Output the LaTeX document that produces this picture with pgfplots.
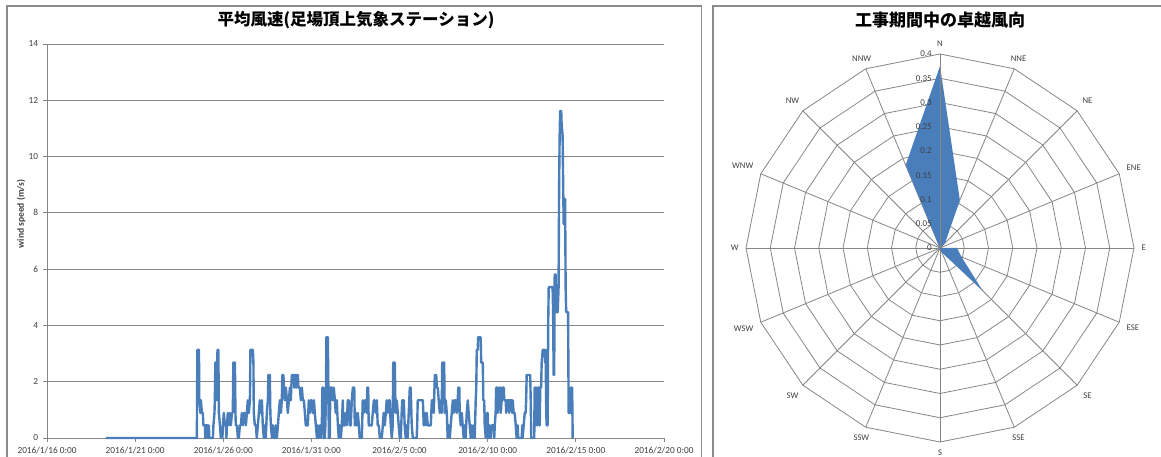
\documentclass[border=0pt]{standalone}
\usepackage{pgfplots}
\pgfplotsset{compat=1.18}
\usepgfplotslibrary{polar}
\usepackage{fontspec}
\setmainfont{Carlito}
\newfontfamily\cjk{Noto Sans CJK JP}
\definecolor{series}{HTML}{4A7EBB}
\definecolor{gridgray}{HTML}{868686}
\definecolor{framegray}{HTML}{8C8C8C}
\definecolor{txt}{HTML}{404040}
\begin{document}
\begin{tikzpicture}[x=1pt,y=1pt]
\useasboundingbox (0,0) rectangle (1161,457);
\begin{scope}
\clip (0,0) rectangle (1161,457);
\draw[framegray, line width=1.6pt] (7,-20) rectangle (701.5,451);
\draw[framegray, line width=1.6pt] (713,-20) rectangle (1190,451);
\end{scope}
% ---------------- left: time series ----------------
\begin{axis}[
  at={(47pt,19pt)}, anchor=south west,
  scale only axis, width=617pt, height=394pt,
  xmin=0, xmax=35, ymin=0, ymax=14,
  xtick={0,5,10,15,20,25,30,35},
  xticklabels={2016/1/16 0:00,2016/1/21 0:00,2016/1/26 0:00,2016/1/31 0:00,2016/2/5 0:00,2016/2/10 0:00,2016/2/15 0:00,2016/2/20 0:00},
  ytick={0,2,4,6,8,10,12,14},
  axis x line*=bottom, axis y line*=left,
  axis line style={gridgray, line width=0.9pt, -},
  ymajorgrids, grid style={gridgray, line width=0.9pt},
  tick style={gridgray, line width=0.9pt},
  tick align=outside, major tick length=4pt,
  /pgf/number format/assume math mode=true,
  tick label style={font=\fontsize{9.3}{11}\selectfont, text=txt},
  yticklabel style={xshift=-1.5pt},
  xticklabel style={yshift=-2pt},
  clip=false,
]
\addplot[series, line width=2.4pt, line join=round, no markers] coordinates {
(3.34,0) (8.50,0) (8.53,3.13) (8.62,3.13) (8.64,1.34) (8.70,0.89) (8.73,1.34) (8.79,0.89)
(8.84,0.89) (8.87,0.45) (8.96,0.45) (8.98,0) (9.01,0.45) (9.10,0.45) (9.13,0) (9.18,0.45)
(9.21,0) (9.41,0) (9.44,0.45) (9.50,0.89) (9.52,1.34) (9.55,2.68) (9.61,2.68) (9.64,1.34)
(9.67,3.13) (9.72,3.13) (9.75,0.89) (9.81,0.45) (9.86,0) (9.95,0) (9.98,0.45) (10.03,0.89)
(10.09,0.45) (10.15,0.45) (10.18,0) (10.20,0.45) (10.26,0.89) (10.32,0.45) (10.37,0.89) (10.43,0.45)
(10.49,0.89) (10.54,0.89) (10.57,2.68) (10.66,2.68) (10.69,0.89) (10.71,0.45) (10.77,0.45) (10.83,0)
(10.88,0) (10.94,0.45) (11.00,0.45) (11.05,0.89) (11.11,0.45) (11.17,0.89) (11.22,0.89) (11.28,0.45)
(11.34,0.89) (11.39,1.34) (11.45,0.89) (11.51,1.34) (11.54,3.13) (11.68,3.13) (11.71,2.68) (11.73,0.89)
(11.79,0.45) (11.85,0.45) (11.90,0) (11.96,0.45) (12.02,0.89) (12.07,1.34) (12.13,0.89) (12.19,1.34)
(12.24,0.45) (12.30,0) (12.36,0.45) (12.41,0) (12.47,0.89) (12.53,1.34) (12.56,2.24) (12.64,2.24)
(12.67,0.89) (12.70,0.45) (12.76,0) (12.81,0.45) (12.87,0) (12.93,0) (12.98,0.45) (13.04,0)
(13.10,0.45) (13.15,0.89) (13.21,1.34) (13.27,0.89) (13.32,1.34) (13.35,2.24) (13.41,2.24) (13.44,1.79)
(13.49,1.34) (13.55,1.79) (13.61,1.34) (13.66,0.89) (13.72,1.34) (13.78,1.79) (13.83,1.34) (13.89,2.24)
(14.00,2.24) (14.03,1.79) (14.06,2.24) (14.12,2.24) (14.14,1.79) (14.17,2.24) (14.23,2.24) (14.26,1.79)
(14.34,1.79) (14.40,1.34) (14.46,1.79) (14.51,1.34) (14.57,1.34) (14.63,0.89) (14.68,0.45) (14.80,0.45)
(14.82,0.89) (14.85,1.34) (14.91,0.89) (14.97,1.34) (15.02,1.34) (15.08,0.89) (15.14,1.34) (15.19,0.89)
(15.25,0.45) (15.31,0) (15.36,0.45) (15.42,0) (15.48,0.45) (15.53,0) (15.59,0.45) (15.62,1.79)
(15.68,1.79) (15.70,0) (15.76,0) (15.79,0.45) (15.82,1.34) (15.85,3.58) (15.93,3.58) (15.96,1.79)
(15.99,0) (16.02,1.79) (16.04,0) (16.07,1.79) (16.16,1.79) (16.21,1.34) (16.27,1.79) (16.33,1.34)
(16.38,0.89) (16.44,1.34) (16.50,0.45) (16.55,0) (16.61,0.45) (16.67,0) (16.72,0.45) (16.78,1.34)
(16.81,0.45) (16.89,0.45) (16.95,0.89) (17.01,0.45) (17.06,1.34) (17.12,1.34) (17.18,0.45) (17.23,0.45)
(17.29,1.34) (17.35,1.79) (17.43,1.79) (17.46,0.45) (17.52,0.89) (17.57,0.45) (17.63,0.89) (17.69,0.45)
(17.74,0) (17.86,0) (17.91,1.34) (17.97,0.89) (18.03,1.34) (18.08,1.34) (18.14,0.89) (18.17,1.79)
(18.22,1.79) (18.25,0.45) (18.42,0.45) (18.48,0.89) (18.54,1.34) (18.59,1.34) (18.65,0.89) (18.71,1.34)
(18.76,0.45) (18.82,0.45) (18.88,0) (18.99,0) (19.05,0.45) (19.10,0.89) (19.16,0.45) (19.22,0.89)
(19.27,1.34) (19.33,0.89) (19.39,1.34) (19.44,1.34) (19.50,0.45) (19.56,0) (19.61,0.45) (19.64,2.68)
(19.73,2.68) (19.76,1.34) (19.78,0.89) (19.84,1.34) (19.90,0.89) (19.95,0.45) (20.01,0) (20.07,0)
(20.12,0.89) (20.15,1.34) (20.24,1.34) (20.29,0.45) (20.35,0) (20.41,0.45) (20.46,0) (20.52,0.89)
(20.58,1.79) (20.63,1.79) (20.69,0.45) (20.75,0) (20.97,0) (21.00,0.45) (21.03,1.34) (21.32,1.34)
(21.37,0.45) (21.43,0.89) (21.49,0.45) (21.54,0.89) (21.60,0.45) (21.77,0.45) (21.83,1.34) (21.88,1.34)
(21.94,0.89) (22.00,2.24) (22.08,2.24) (22.11,1.79) (22.17,1.79) (22.22,1.34) (22.28,0.89) (22.34,1.34)
(22.39,0.89) (22.42,2.68) (22.53,2.68) (22.56,0.89) (22.62,1.34) (22.68,0.89) (22.73,0) (22.79,0.45)
(22.85,0) (22.90,0.45) (22.96,0.89) (23.02,1.34) (23.07,0.89) (23.13,1.34) (23.19,1.34) (23.24,0.89)
(23.30,1.34) (23.33,1.79) (23.39,1.79) (23.41,0.89) (23.47,0.45) (23.53,0.89) (23.58,0.45) (23.64,0)
(23.70,0.45) (23.75,0) (23.81,0.89) (23.87,1.34) (23.92,0.89) (23.98,0.45) (24.04,0) (24.09,0.45)
(24.15,0) (24.21,0.45) (24.26,0) (24.32,1.34) (24.35,1.79) (24.38,3.13) (24.43,3.13) (24.46,3.58)
(24.60,3.58) (24.63,2.68) (24.72,2.68) (24.75,1.34) (24.80,1.34) (24.83,0.45) (24.89,0) (24.94,0.45)
(24.97,0.89) (25.00,0.89) (25.03,0) (25.08,0) (25.11,0.45) (25.17,0) (25.23,0.45) (25.34,0.45)
(25.37,0) (25.40,0.45) (25.45,0.89) (25.48,1.79) (25.54,1.79) (25.57,0.89) (25.62,1.34) (25.65,1.79)
(25.71,1.79) (25.74,0.89) (25.79,1.34) (25.82,1.79) (25.91,1.79) (25.94,1.34) (26.02,1.34) (26.05,0.89)
(26.08,1.34) (26.19,1.34) (26.22,0.89) (26.25,1.34) (26.36,1.34) (26.39,0.89) (26.42,1.34) (26.47,0.89)
(26.53,0.89) (26.59,0.45) (26.64,0) (26.70,0.45) (26.73,0) (26.93,0) (26.96,0.45) (26.98,0)
(27.04,0.45) (27.10,0.89) (27.15,0.89) (27.18,1.34) (27.21,2.24) (27.41,2.24) (27.44,1.34) (27.47,0)
(27.64,0) (27.66,1.79) (27.72,1.79) (27.75,0.45) (27.78,1.79) (27.83,0.45) (27.86,1.79) (27.92,1.79)
(27.95,0.45) (27.98,1.79) (28.03,1.79) (28.06,2.68) (28.12,3.13) (28.23,3.13) (28.26,2.68) (28.29,3.13)
(28.31,1.34) (28.34,0.45) (28.40,0.45) (28.43,4.02) (28.46,5.36) (28.68,5.36) (28.71,4.47) (28.74,2.24)
(28.77,2.24) (28.80,5.81) (28.85,5.81) (28.88,4.92) (28.91,4.47) (28.97,4.47) (29.02,5.36) (29.05,8.94)
(29.08,10.73) (29.11,11.62) (29.17,11.62) (29.19,11.18) (29.25,10.73) (29.28,8.94) (29.31,7.60) (29.34,8.49)
(29.37,7.60) (29.39,8.49) (29.42,5.36) (29.45,4.47) (29.56,4.47) (29.59,0.89) (29.68,0.89) (29.71,1.79)
(29.79,1.79) (29.82,0)
};
\end{axis}
\node[font=\cjk\bfseries\fontsize{16.5}{18}\selectfont] at (356,437) {平均風速(足場頂上気象ステーション)};
\node[rotate=90, font=\bfseries\fontsize{9.5}{11}\selectfont, text=txt] at (21,243) {wind speed (m/s)};
% ---------------- right: radar ----------------
\begin{polaraxis}[
  at={(940pt,209pt)}, anchor=center,
  scale only axis, width=388pt, height=388pt,
  ymin=0, ymax=0.4,
  hide axis, xtick=\empty, ytick=\empty,
  clip=false,
]
\pgfplotsinvokeforeach{0.05,0.1,0.15,0.2,0.25,0.3,0.35,0.4}{
  \addplot[gridgray, line width=0.8pt, no markers, forget plot] coordinates {
    (90,#1) (67.5,#1) (45,#1) (22.5,#1) (0,#1) (-22.5,#1) (-45,#1) (-67.5,#1) (-90,#1)
    (-112.5,#1) (-135,#1) (-157.5,#1) (-180,#1) (-202.5,#1) (-225,#1) (-247.5,#1) (-270,#1)};
}
\pgfplotsinvokeforeach{90,67.5,45,22.5,0,-22.5,-45,-67.5,-90,-112.5,-135,-157.5,180,157.5,135,112.5}{
  \addplot[gridgray, line width=0.8pt, no markers, forget plot] coordinates {(#1,0) (#1,0.4)};
}
\addplot[fill=series, draw=none, no markers, forget plot] coordinates {
  (90,0.375) (67.5,0.107) (45,0.015) (22.5,0) (0,0.035) (-22.5,0.048) (-45,0.124) (-67.5,0.01)
  (-90,0) (-112.5,0) (-135,0) (-157.5,0) (180,0) (157.5,0) (135,0) (112.5,0.185) (90,0.375)};
\addplot[gridgray, line width=0.8pt, no markers, forget plot] coordinates {(90,0) (90,0.4)};
\pgfplotsinvokeforeach{0,0.05,0.1,0.15,0.2,0.25,0.3,0.35,0.4}{
  \node[anchor=east, inner sep=0pt, xshift=-8pt, font=\fontsize{9}{10}\selectfont, text=txt] at (axis cs:90,#1) {#1};
}
\begin{scope}[every node/.style={inner sep=0pt, outer sep=7.5pt, font=\fontsize{8.7}{10}\selectfont, text=txt}]
\node[anchor=270]   at (axis cs:90,0.4) {N};
\node[anchor=247.5] at (axis cs:67.5,0.4) {NNE};
\node[anchor=225]   at (axis cs:45,0.4) {NE};
\node[anchor=202.5] at (axis cs:22.5,0.4) {ENE};
\node[anchor=180]   at (axis cs:0,0.4) {E};
\node[anchor=157.5] at (axis cs:-22.5,0.4) {ESE};
\node[anchor=135]   at (axis cs:-45,0.4) {SE};
\node[anchor=112.5] at (axis cs:-67.5,0.4) {SSE};
\node[anchor=90]    at (axis cs:-90,0.4) {S};
\node[anchor=67.5]  at (axis cs:-112.5,0.4) {SSW};
\node[anchor=45]    at (axis cs:-135,0.4) {SW};
\node[anchor=22.5]  at (axis cs:-157.5,0.4) {WSW};
\node[anchor=0]     at (axis cs:180,0.4) {W};
\node[anchor=337.5] at (axis cs:157.5,0.4) {WNW};
\node[anchor=315]   at (axis cs:135,0.4) {NW};
\node[anchor=292.5] at (axis cs:112.5,0.4) {NNW};
\end{scope}
\end{polaraxis}
\node[font=\cjk\bfseries\fontsize{17}{19}\selectfont] at (940,437) {工事期間中の卓越風向};
\end{tikzpicture}
\end{document}
